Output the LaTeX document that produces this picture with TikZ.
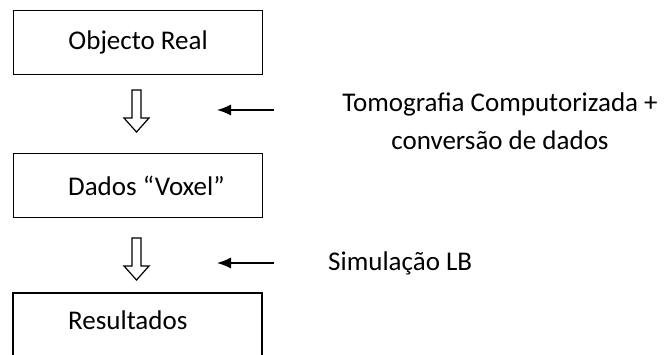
\documentclass[tikz,border=0pt]{standalone}
\usepackage{fontspec}
\setmainfont{Carlito}
\usetikzlibrary{arrows.meta}
\begin{document}
\begin{tikzpicture}[x=1pt,y=-1pt,
  stage/.style={draw=black,line width=1.2pt,minimum width=249pt,minimum height=64pt,inner sep=0pt,anchor=north west},
  txt/.style={font=\fontsize{27}{38}\selectfont,inner sep=0pt},
  flow/.style={draw=black,line width=1.2pt,fill=white,line join=miter},
  pointer/.style={draw=black,line width=1.3pt,-{Latex[length=14pt,width=11pt]}}]
\useasboundingbox (0,0) rectangle (666,354);
% process boxes
\node[stage] (obj) at (13,10) {};
\node[txt] at (obj.center) {Objecto Real};
\node[stage] (vox) at (13,153) {};
\node[txt,anchor=west] at ([xshift=55pt]vox.west) {Dados “Voxel”};
% last box runs past the bottom edge
\coordinate (resTL) at (13,293);
\coordinate (resTR) at (262,293);
\draw[line width=1.2pt] (13,360) -- (resTL) -- (resTR) -- (262,360);
\node[txt,anchor=west] (res) at (68,320) {Resultados};
% hollow flow arrows between the boxes
\foreach \t/\n in {90/a1,238/a2} {
  \draw[flow] (132,\t) -- (141,\t) -- (141,\t+28) -- (149,\t+28) -- (136.5,\t+42)
    -- (124,\t+28) -- (132,\t+28) -- cycle;
}
% side annotations
\node[txt,align=center] (ct) at (500,121) {Tomografia Computorizada +\\conversão de dados};
\coordinate (p1) at (274,110);
\coordinate (q1) at (217,110);
\draw[pointer] (p1) -- (q1);
\node[txt,anchor=west] (lb) at (328,263) {Simulação LB};
\coordinate (p2) at (274,263);
\coordinate (q2) at (217,263);
\draw[pointer] (p2) -- (q2);
\end{tikzpicture}
\end{document}
